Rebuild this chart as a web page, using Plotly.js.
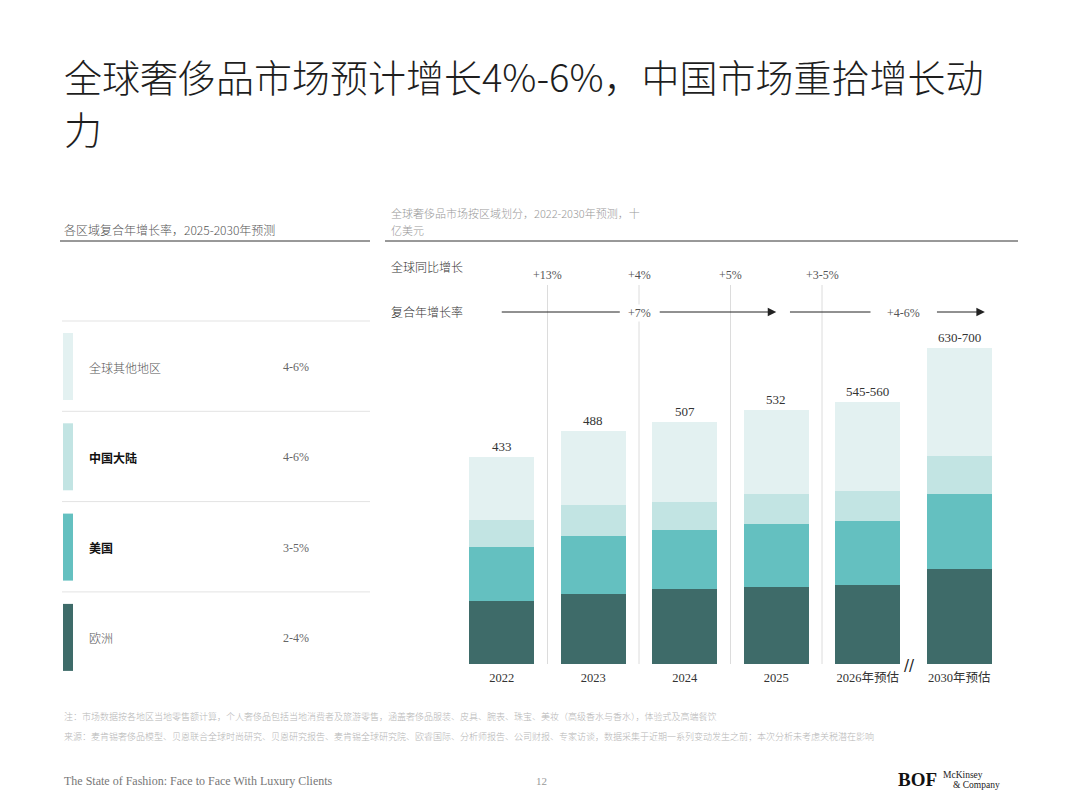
<!DOCTYPE html>
<html>
<head>
<meta charset="utf-8">
<script src="https://cdn.plot.ly/plotly-3.0.1.min.js"></script>
<style>html,body{margin:0;padding:0;background:#fff;}#chart{width:1080px;height:809px;}</style>
</head>
<body>
<div id="chart"></div>
<script>
// ---- data ----
const years = ["2022", "2023", "2024", "2025", "2026年预估", "2030年预估"];
const europe = [132, 146, 156, 161, 165, 198];
const usa = [112, 121, 124, 132, 135, 158];
const china = [57, 66, 59, 62, 62, 78];
const restOfWorld = [132, 155, 168, 177, 186, 227];
const totalLabels = ["433", "488", "507", "532", "545-560", "630-700"];
const yoyLabels = ["+13%", "+4%", "+5%", "+3-5%"];
const cagrLabels = ["+7%", "+4-6%"];
const regionNames = ["全球其他地区", "中国大陆", "美国", "欧洲"];
const regionCagr = ["4-6%", "4-6%", "3-5%", "2-4%"];
const regionBold = [false, true, true, false];
const seriesNames = ["欧洲", "美国", "中国大陆", "全球其他地区"];
const seriesColors = ["#3e6b69", "#64c0c0", "#c2e4e3", "#e3f1f1"];

// ---- helpers ----
const W = 1080, H = 809;
const px = x => x / W;
const py = y => 1 - y / H;
const SERIF = "Liberation Serif, Noto Sans CJK SC, serif";
const CJK = "Noto Sans CJK SC, sans-serif";

const seriesVals = [europe, usa, china, restOfWorld];
const traces = seriesVals.map((vals, i) => ({
  type: "bar", x: years, y: vals, name: seriesNames[i],
  marker: {color: seriesColors[i], line: {width: 0}},
  hoverinfo: "skip", showlegend: false
}));
const totals = years.map((_, i) => seriesVals.reduce((s, a) => s + a[i], 0));

const annotations = [];
const shapes = [];

// title
annotations.push({xref: "paper", yref: "paper", x: px(62), y: py(75), xanchor: "left", yanchor: "middle",
  text: "全球奢侈品市场预计增长4%-6%，中国市场重拾增长动", showarrow: false,
  font: {family: CJK, size: 38, color: "#1e1e1e", weight: 300}});
annotations.push({xref: "paper", yref: "paper", x: px(62), y: py(128), xanchor: "left", yanchor: "middle",
  text: "力", showarrow: false, font: {family: CJK, size: 38, color: "#1e1e1e", weight: 300}});

// subtitles
annotations.push({xref: "paper", yref: "paper", x: px(62), y: py(230), xanchor: "left", yanchor: "middle",
  text: "各区域复合年增长率，2025-2030年预测", showarrow: false, font: {family: CJK, size: 12, color: "#555", weight: 300}});
annotations.push({xref: "paper", yref: "paper", x: px(389), y: py(213), xanchor: "left", yanchor: "middle",
  text: "全球奢侈品市场按区域划分，2022-2030年预测，十", showarrow: false, font: {family: CJK, size: 11, color: "#999", weight: 300}});
annotations.push({xref: "paper", yref: "paper", x: px(389), y: py(230), xanchor: "left", yanchor: "middle",
  text: "亿美元", showarrow: false, font: {family: CJK, size: 11, color: "#999", weight: 300}});
shapes.push({type: "line", xref: "paper", yref: "paper", x0: px(60), x1: px(370), y0: py(241), y1: py(241), line: {color: "#333", width: 1}});
shapes.push({type: "line", xref: "paper", yref: "paper", x0: px(385), x1: px(1018), y0: py(241), y1: py(241), line: {color: "#333", width: 1}});

// left legend table
regionNames.forEach((name, i) => {
  const top = 333 + i * 90.3;
  shapes.push({type: "line", xref: "paper", yref: "paper", x0: px(62), x1: px(370), y0: py(top - 12), y1: py(top - 12), line: {color: "#e3e3e3", width: 1}});
  shapes.push({type: "rect", xref: "paper", yref: "paper", x0: px(63), x1: px(73), y0: py(top), y1: py(top + 67),
    fillcolor: seriesColors[3 - i], line: {width: 0}});
  annotations.push({xref: "paper", yref: "paper", x: px(87), y: py(top + 34), xanchor: "left", yanchor: "middle",
    text: regionBold[i] ? "<b>" + name + "</b>" : name, showarrow: false,
    font: {family: CJK, size: 12, color: regionBold[i] ? "#111" : "#555", weight: regionBold[i] ? 700 : 300}});
  annotations.push({xref: "paper", yref: "paper", x: px(281), y: py(top + 34), xanchor: "left", yanchor: "middle",
    text: regionCagr[i], showarrow: false, font: {family: SERIF, size: 12, color: "#666"}});
});

// row labels above bars
annotations.push({xref: "paper", yref: "paper", x: px(389), y: py(267), xanchor: "left", yanchor: "middle",
  text: "全球同比增长", showarrow: false, font: {family: CJK, size: 12, color: "#333", weight: 300}});
annotations.push({xref: "paper", yref: "paper", x: px(389), y: py(311), xanchor: "left", yanchor: "middle",
  text: "复合年增长率", showarrow: false, font: {family: CJK, size: 12, color: "#333", weight: 300}});

// vertical separators + yoy labels
yoyLabels.forEach((lab, i) => {
  shapes.push({type: "line", xref: "x", yref: "paper", x0: i + 0.5, x1: i + 0.5, y0: py(664), y1: py(285),
    line: {color: "#dcdcdc", width: 1}, layer: "below"});
  annotations.push({xref: "x", yref: "paper", x: i + 0.5, y: py(275), xanchor: "center", yanchor: "middle",
    text: lab, showarrow: false, font: {family: SERIF, size: 12, color: "#555"}});
});

// CAGR arrows
const yArrow = py(312);
shapes.push({type: "line", xref: "x", yref: "paper", x0: 0, x1: 1.29, y0: yArrow, y1: yArrow, line: {color: "#222", width: 1}});
annotations.push({xref: "x", yref: "paper", x: 3, y: yArrow, ax: 1.71, axref: "x", ay: 0, ayref: "pixel",
  showarrow: true, arrowhead: 2, arrowsize: 1.7, arrowwidth: 1, arrowcolor: "#222", text: "", standoff: 0});
annotations.push({xref: "x", yref: "paper", x: 1.5, y: py(313), xanchor: "center", yanchor: "middle",
  text: cagrLabels[0], showarrow: false, bgcolor: "#fff", font: {family: SERIF, size: 12, color: "#555"}});
shapes.push({type: "line", xref: "x", yref: "paper", x0: 3.15, x1: 4.03, y0: yArrow, y1: yArrow, line: {color: "#222", width: 1}});
annotations.push({xref: "x", yref: "paper", x: 5.28, y: yArrow, ax: 4.74, axref: "x", ay: 0, ayref: "pixel",
  showarrow: true, arrowhead: 2, arrowsize: 1.7, arrowwidth: 1, arrowcolor: "#222", text: "", standoff: 0});
annotations.push({xref: "x", yref: "paper", x: 4.39, y: py(313), xanchor: "center", yanchor: "middle",
  text: cagrLabels[1], showarrow: false, font: {family: SERIF, size: 12, color: "#555"}});

// total labels (x given as category index)
years.forEach((yr, i) => {
  annotations.push({xref: "x", yref: "y", x: i, y: totals[i], yshift: 10, xanchor: "center", yanchor: "middle",
    text: totalLabels[i], showarrow: false, font: {family: SERIF, size: 13, color: "#333"}});
});

// axis break mark
annotations.push({xref: "x", yref: "paper", x: 4.46, y: py(666), xanchor: "center", yanchor: "middle",
  text: "//", showarrow: false, font: {family: "DejaVu Sans", size: 15, color: "#222"}});

// footnotes
annotations.push({xref: "paper", yref: "paper", x: px(62), y: py(716), xanchor: "left", yanchor: "middle",
  text: "注：市场数据按各地区当地零售额计算，个人奢侈品包括当地消费者及旅游零售，涵盖奢侈品服装、皮具、腕表、珠宝、美妆（高级香水与香水），体验式及高端餐饮",
  showarrow: false, font: {family: CJK, size: 9, color: "#b5b5b5", weight: 300}});
annotations.push({xref: "paper", yref: "paper", x: px(62), y: py(736), xanchor: "left", yanchor: "middle",
  text: "来源：麦肯锡奢侈品模型、贝恩联合全球时尚研究、贝恩研究报告、麦肯锡全球研究院、欧睿国际、分析师报告、公司财报、专家访谈，数据采集于近期一系列变动发生之前；本次分析未考虑关税潜在影响",
  showarrow: false, font: {family: CJK, size: 9, color: "#b5b5b5", weight: 300}});
annotations.push({xref: "paper", yref: "paper", x: px(62), y: py(781), xanchor: "left", yanchor: "middle",
  text: "The State of Fashion: Face to Face With Luxury Clients", showarrow: false,
  font: {family: SERIF, size: 12, color: "#777"}});
annotations.push({xref: "paper", yref: "paper", x: px(541), y: py(781), xanchor: "center", yanchor: "middle",
  text: "12", showarrow: false, font: {family: SERIF, size: 11, color: "#999"}});
annotations.push({xref: "paper", yref: "paper", x: px(896), y: py(779), xanchor: "left", yanchor: "middle",
  text: "<b>BOF</b>", showarrow: false, font: {family: SERIF, size: 19, color: "#111"}});
annotations.push({xref: "paper", yref: "paper", x: px(941), y: py(775), xanchor: "left", yanchor: "middle",
  text: "McKinsey", showarrow: false, font: {family: SERIF, size: 9.5, color: "#222"}});
annotations.push({xref: "paper", yref: "paper", x: px(951), y: py(785), xanchor: "left", yanchor: "middle",
  text: "& Company", showarrow: false, font: {family: SERIF, size: 9.5, color: "#222"}});

const layout = {
  width: W, height: H,
  margin: {l: 0, r: 0, t: 0, b: 0},
  paper_bgcolor: "#fff", plot_bgcolor: "rgba(0,0,0,0)",
  barmode: "stack", bargap: 0.29,
  showlegend: false,
  xaxis: {domain: [px(456), px(1005)], type: "category", range: [-0.5, 5.5],
    showgrid: false, zeroline: false, showline: false, ticks: "", ticklabelstandoff: 4,
    tickfont: {family: SERIF, size: 12.5, color: "#333"}, fixedrange: true},
  yaxis: {domain: [py(664), py(281.5)], range: [0, 800], visible: false, fixedrange: true},
  annotations: annotations,
  shapes: shapes
};

Plotly.newPlot("chart", traces, layout, {displayModeBar: false, staticPlot: true});
</script>
</body>
</html>
